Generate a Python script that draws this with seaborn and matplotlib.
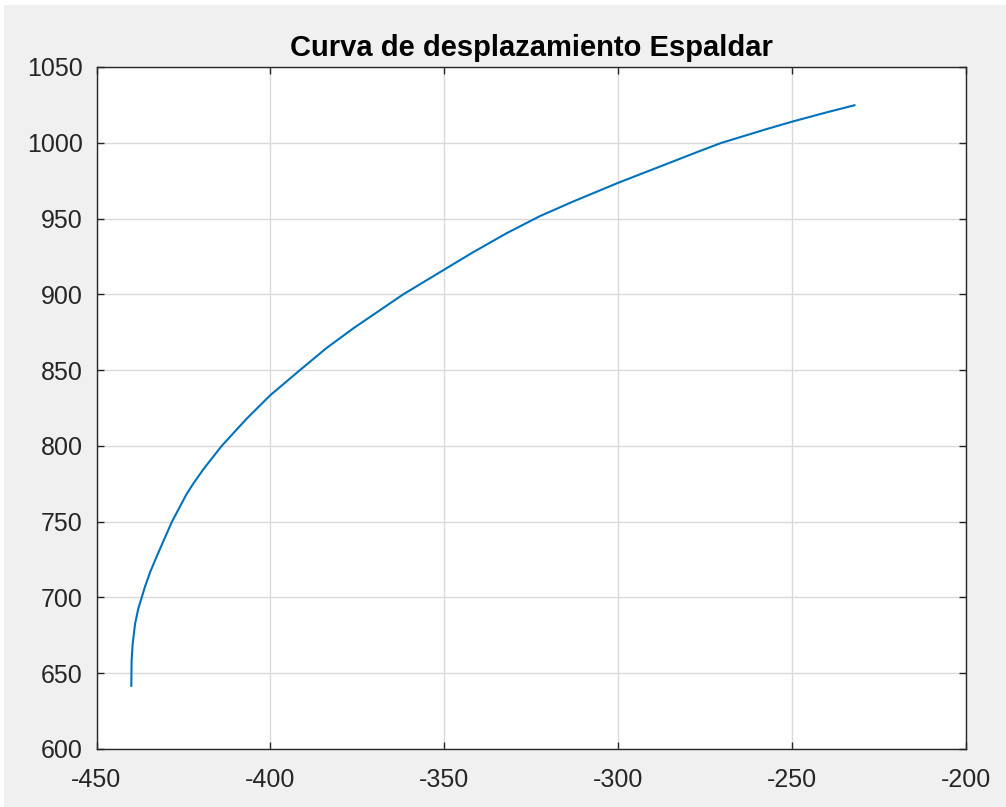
import matplotlib
matplotlib.use("Agg")
import matplotlib.pyplot as plt
from matplotlib.patches import Rectangle
import seaborn as sns
import pandas as pd

# Displacement path of the backrest (x, y)
x_desp = [-440.0, -439.9, -439.6, -438.9, -438.0, -437.0, -436.1, -434.6, -433.2,
          -430.8, -428.3, -424.1, -422.2, -419.3, -414.0, -406.8, -400.0, -391.5,
          -383.9, -376.2, -361.8, -350.1, -341.7, -332.1, -322.6,
          -313.0, -300.1, -286.1, -276.6, -270.5, -257.4, -249.9, -240.2, -232.0]
y_desp = [641.5, 658.6, 669.5, 682.7, 692.5, 700.0, 706.8, 716.6, 724.3,
          737.0, 750.0, 768.2, 775.0, 784.5, 800.0, 818.0, 833.5, 850.0,
          864.5, 877.5, 900.0, 916.2, 927.8, 940.3, 951.5,
          961.2, 973.5, 986.0, 994.5, 999.8, 1009.0, 1014.0, 1020.0, 1024.8]

x_ticks = [-450, -400, -350, -300, -250, -200]
y_ticks = [600, 650, 700, 750, 800, 850, 900, 950, 1000, 1050]
titulo = "Curva de desplazamiento Espaldar"

sns.set_style("white")
plt.rcParams["font.family"] = ["Liberation Sans", "DejaVu Sans"]

fig = plt.figure(figsize=(10.06, 8.07), dpi=100, facecolor="#f0f0f0")
# thin white margin along the top and left edges
fig.patches.append(Rectangle((0, 1 - 5 / 807), 1, 5 / 807, transform=fig.transFigure,
                             facecolor="white", edgecolor="none", zorder=-1))
fig.patches.append(Rectangle((0, 0), 4 / 1006, 1, transform=fig.transFigure,
                             facecolor="white", edgecolor="none", zorder=-1))

ax = fig.add_axes([96.5 / 1006, 1 - 749 / 807, (966 - 96.5) / 1006, (749 - 67) / 807])
ax.set_facecolor("white")

df = pd.DataFrame({"x": x_desp, "y": y_desp})
sns.lineplot(data=df, x="x", y="y", ax=ax, sort=False, color="#0072BD",
             linewidth=1.5, zorder=3)

ax.set_xlim(-450, -200)
ax.set_ylim(600, 1050)
ax.set_xticks(x_ticks)
ax.set_yticks(y_ticks)
ax.set_xticklabels([str(t) for t in x_ticks])
ax.set_yticklabels([str(t) for t in y_ticks])
ax.set_xlabel("")
ax.set_ylabel("")

ax.grid(True, color="#d9d9d9", linewidth=1.0, zorder=0)
ax.set_axisbelow(True)

for s in ax.spines.values():
    s.set_visible(True)
    s.set_color("#262626")
    s.set_linewidth(1.0)

ax.tick_params(axis="both", direction="in", length=5, width=1.0, color="#262626",
               labelsize=18, labelcolor="#262626", top=True, right=True,
               bottom=True, left=True)
ax.tick_params(axis="x", pad=14)
ax.tick_params(axis="y", pad=10)

ax.set_title(titulo, fontsize=21, fontweight="bold", color="black", pad=8)

fig.savefig("out.png", dpi=100, facecolor=fig.get_facecolor())
